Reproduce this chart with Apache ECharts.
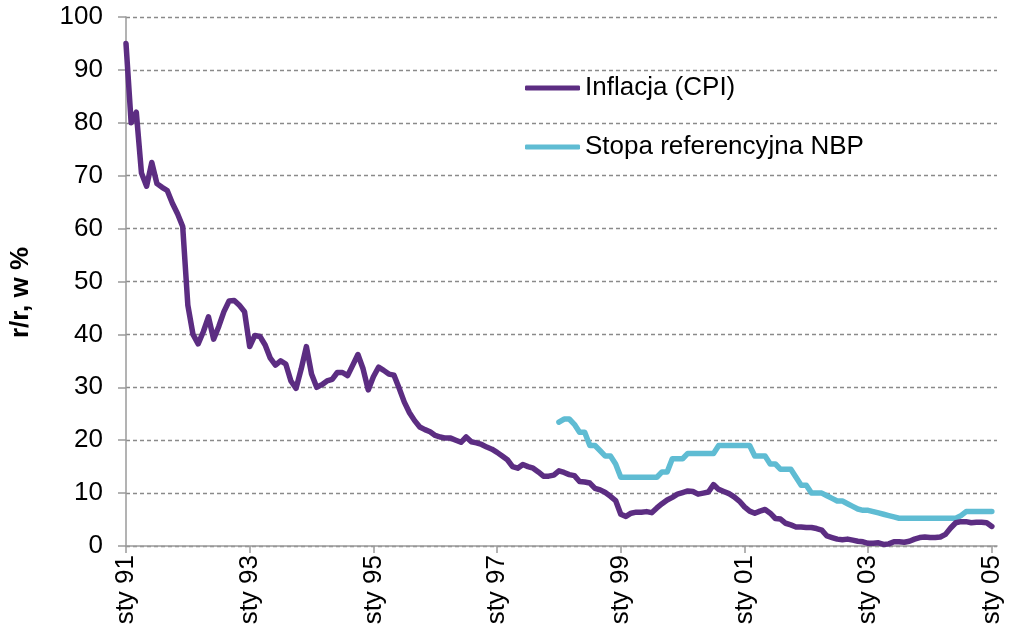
<!DOCTYPE html>
<html>
<head>
<meta charset="utf-8">
<script src="https://cdn.jsdelivr.net/npm/echarts@6/dist/echarts.min.js"></script>
<style>
html,body{margin:0;padding:0;background:#fff;}
#chart{width:1015px;height:635px;}
</style>
</head>
<body>
<div id="chart"></div>
<script>
// Month abbreviations (Polish) used for category labels
const monthNames = ['sty','lut','mar','kwi','maj','cze','lip','sie','wrz','paź','lis','gru'];
const startYear = 1991;
const endYear = 2005;
const endMonthsInLastYear = 2;

// Categories: monthly from sty 91 to lut 05
const categories = [];
for (let y = startYear; y <= endYear; y++) {
  const n = (y === endYear) ? endMonthsInLastYear : 12;
  for (let m = 0; m < n; m++) categories.push(monthNames[m] + ' ' + String(y).slice(2));
}

// Inflacja (CPI), r/r w % — monthly from sty 91
const inflacja = [
  95.0, 80.0, 82.0, 70.5, 68.0, 72.5, 68.5, 67.8, 67.2, 64.8, 62.8, 60.4,
  45.5, 40.0, 38.2, 40.5, 43.3, 39.1, 41.5, 44.3, 46.3, 46.4, 45.5, 44.3,
  37.7, 39.8, 39.6, 38.0, 35.5, 34.2, 35.0, 34.4, 31.2, 29.8, 33.5, 37.7,
  32.5, 30.0, 30.5, 31.2, 31.5, 32.8, 32.8, 32.2, 34.2, 36.2, 33.5, 29.5,
  32.0, 33.8, 33.2, 32.5, 32.3, 29.8, 27.2, 25.2, 23.7, 22.5, 22.0, 21.6,
  20.9, 20.6, 20.4, 20.4, 20.0, 19.6, 20.6, 19.7, 19.5, 19.2, 18.7, 18.3,
  17.7, 17.0, 16.3, 15.0, 14.7, 15.4, 15.0, 14.7, 14.0, 13.2, 13.2, 13.4,
  14.2, 13.9, 13.5, 13.3, 12.2, 12.1, 11.9, 10.9, 10.6, 10.1, 9.4, 8.6,
  6.0, 5.6, 6.2, 6.4, 6.4, 6.5, 6.3, 7.2, 8.0, 8.7, 9.2, 9.8,
  10.1, 10.4, 10.3, 9.8, 10.0, 10.2, 11.6, 10.7, 10.3, 9.9, 9.3, 8.5,
  7.4, 6.6, 6.2, 6.6, 6.9, 6.2, 5.2, 5.1, 4.3, 4.0, 3.6, 3.6,
  3.5, 3.5, 3.3, 3.0, 1.9, 1.6, 1.3, 1.2, 1.3, 1.1, 0.9, 0.8,
  0.5, 0.5, 0.6, 0.3, 0.4, 0.8, 0.8, 0.7, 0.9, 1.3, 1.6, 1.7,
  1.6, 1.6, 1.7, 2.2, 3.4, 4.4, 4.6, 4.6, 4.4, 4.5, 4.5, 4.4,
  3.7
];

// Stopa referencyjna NBP — monthly from sty 98 (no data before)
const stopaStartIndex = 84;
const stopaValues = [
  23.4, 24.0, 24.0, 23.0, 21.5, 21.5, 19.0, 19.0, 18.0, 17.0, 17.0, 15.5,
  13.0, 13.0, 13.0, 13.0, 13.0, 13.0, 13.0, 13.0, 14.0, 14.0, 16.5, 16.5,
  16.5, 17.5, 17.5, 17.5, 17.5, 17.5, 17.5, 19.0, 19.0, 19.0, 19.0, 19.0,
  19.0, 19.0, 17.0, 17.0, 17.0, 15.5, 15.5, 14.5, 14.5, 14.5, 13.0, 11.5,
  11.5, 10.0, 10.0, 10.0, 9.5, 9.0, 8.5, 8.5, 8.0, 7.5, 7.0, 6.75,
  6.75, 6.5, 6.25, 6.0, 5.75, 5.5, 5.25, 5.25, 5.25, 5.25, 5.25, 5.25,
  5.25, 5.25, 5.25, 5.25, 5.25, 5.25, 5.75, 6.5, 6.5, 6.5, 6.5, 6.5,
  6.5
];
const stopa = new Array(stopaStartIndex).fill(null).concat(stopaValues);

const yMin = 0, yMax = 100, yInterval = 10;
const labelEvery = 24;

const FONT = '"Liberation Sans", Arial, sans-serif';
const PURPLE = '#5c2d82';
const CYAN = '#5fbcd3';
const chart = echarts.init(document.getElementById('chart'), null, {renderer: 'canvas'});
chart.setOption({
  animation: false,
  backgroundColor: '#ffffff',
  textStyle: {fontFamily: FONT},
  grid: {left: 126, right: 18, top: 17, bottom: 89, containLabel: false},
  legend: {
    orient: 'vertical',
    left: 525,
    top: 75,
    padding: 0,
    icon: 'roundRect',
    itemWidth: 55,
    itemHeight: 5,
    itemGap: 33,
    textStyle: {fontSize: 26, color: '#000', fontFamily: FONT},
    data: [
      {name: 'Inflacja (CPI)', itemStyle: {color: PURPLE}},
      {name: 'Stopa referencyjna NBP', itemStyle: {color: CYAN}}
    ]
  },
  xAxis: {
    type: 'category',
    data: categories,
    boundaryGap: false,
    axisLine: {lineStyle: {color: '#9a9a9a', width: 1.5}},
    axisTick: {interval: labelEvery - 1, length: 7, lineStyle: {color: '#9a9a9a', width: 1.5}},
    axisLabel: {
      interval: labelEvery - 1,
      rotate: 90,
      margin: 9,
      fontSize: 26,
      color: '#000',
      fontFamily: FONT
    },
    splitLine: {show: false}
  },
  yAxis: {
    type: 'value',
    min: yMin,
    max: yMax,
    interval: yInterval,
    name: 'r/r, w %',
    nameLocation: 'middle',
    nameRotate: 90,
    nameGap: 92,
    nameTextStyle: {fontSize: 26, fontWeight: 'bold', color: '#000', fontFamily: FONT, padding: [0, 22, 0, 0]},
    axisLine: {show: true, lineStyle: {color: '#9a9a9a', width: 1.5}},
    axisTick: {show: true, length: 8, lineStyle: {color: '#9a9a9a', width: 1.5}},
    axisLabel: {margin: 23, fontSize: 26, color: '#000', fontFamily: FONT},
    splitLine: {show: true, lineStyle: {color: '#8a8a8a', width: 1.3, type: [4, 3]}}
  },
  series: [
    {
      name: 'Inflacja (CPI)',
      type: 'line',
      data: inflacja,
      symbol: 'none',
      lineStyle: {color: PURPLE, width: 5.5, cap: 'round', join: 'round'},
      itemStyle: {color: PURPLE},
      z: 3
    },
    {
      name: 'Stopa referencyjna NBP',
      type: 'line',
      data: stopa,
      symbol: 'none',
      connectNulls: false,
      lineStyle: {color: CYAN, width: 5.5, cap: 'round', join: 'round'},
      itemStyle: {color: CYAN},
      z: 2
    }
  ]
});
</script>
</body>
</html>
